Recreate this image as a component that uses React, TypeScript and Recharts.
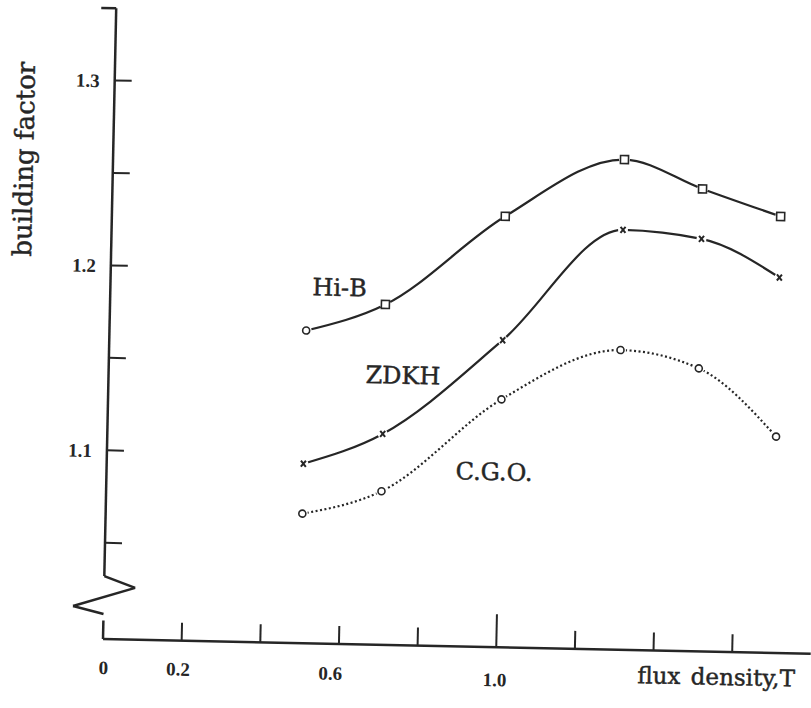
import { Line, LineChart, ReferenceLine, XAxis, YAxis } from "recharts";

// flux density (T) at which the three steels were measured
const fluxDensity = [0.5, 0.7, 1.0, 1.3, 1.5, 1.7];
const hiB = [1.167, 1.182, 1.231, 1.263, 1.248, 1.234];
const zdkh = [1.095, 1.112, 1.164, 1.225, 1.221, 1.201];
const cgo = [1.068, 1.081, 1.132, 1.16, 1.151, 1.115];

const xTicks = [0, 0.2, 0.4, 0.6, 0.8, 1.0, 1.2, 1.4, 1.6];
const xTickLabels = ["0", "0.2", "", "0.6", "", "1.0", "", "", ""];
const yTicks = [1.05, 1.1, 1.15, 1.2, 1.25, 1.3];
const yTickLabels = ["", "1.1", "", "1.2", "", "1.3"];

const data = fluxDensity.map((x, i) => ({ x, hiB: hiB[i], zdkh: zdkh[i], cgo: cgo[i] }));

const INK = "#262626";
const NUM_FONT = "'Liberation Serif', serif";
const TEXT_FONT = "'DejaVu Serif', serif";

// small hand-placement nudges of the printed tick numbers
const xLabelNudge: Record<string, [number, number]> = {
  "0": [1, 0],
  "0.2": [-3, 0],
  "0.6": [-8, 1],
  "1.0": [-1, 4],
};

const same = (a: number, b: number) => Math.abs(a - b) < 1e-6;

function XTick(props: any) {
  const { x, y, payload } = props;
  const i = xTicks.findIndex((t) => same(t, payload.value));
  const label = xTickLabels[i] ?? "";
  const len = same(payload.value, 0) ? 0 : same(payload.value, 1) ? 33 : 18;
  const [dx, dy] = xLabelNudge[label] ?? [0, 0];
  return (
    <g>
      {len > 0 && <line x1={x} x2={x} y1={y} y2={y - len} stroke={INK} strokeWidth={2} />}
      {label && (
        <text
          x={x + dx}
          y={y + 35 + dy}
          textAnchor="middle"
          fontFamily={NUM_FONT}
          fontWeight="bold"
          fontSize={19}
          fill={INK}
        >
          {label}
        </text>
      )}
    </g>
  );
}

function YTick(props: any) {
  const { x, y, payload } = props;
  const i = yTicks.findIndex((t) => same(t, payload.value));
  const label = yTickLabels[i] ?? "";
  return (
    <g>
      <line x1={x} x2={x + 17} y1={y} y2={y} stroke={INK} strokeWidth={2} />
      {label && (
        <text
          x={x - 15}
          y={y + 7}
          textAnchor="end"
          fontFamily={NUM_FONT}
          fontWeight="bold"
          fontSize={19}
          fill={INK}
        >
          {label}
        </text>
      )}
    </g>
  );
}

function HiBDot(props: any) {
  const { cx, cy, index } = props;
  if (cx == null || cy == null) return null;
  return (
    <g key={`hib-${index}`}>
      <circle cx={cx} cy={cy} r={5.5} fill="#fff" />
      {index === 0 ? (
        <circle cx={cx} cy={cy} r={3.5} fill="#fff" stroke={INK} strokeWidth={1.6} />
      ) : (
        <rect x={cx - 4} y={cy - 4} width={8} height={8} fill="#fff" stroke={INK} strokeWidth={1.6} />
      )}
    </g>
  );
}

function ZdkhDot(props: any) {
  const { cx, cy, index } = props;
  if (cx == null || cy == null) return null;
  return (
    <g key={`zdkh-${index}`}>
      <circle cx={cx} cy={cy} r={5} fill="#fff" />
      <path
        d={`M${cx - 2.5},${cy - 3} L${cx + 2.5},${cy + 3} M${cx + 2.5},${cy - 3} L${cx - 2.5},${cy + 3}`}
        stroke={INK}
        strokeWidth={2}
      />
    </g>
  );
}

function CgoDot(props: any) {
  const { cx, cy, index } = props;
  if (cx == null || cy == null) return null;
  return (
    <g key={`cgo-${index}`}>
      <circle cx={cx} cy={cy} r={5.5} fill="#fff" />
      <circle cx={cx} cy={cy} r={3.5} fill="#fff" stroke={INK} strokeWidth={1.6} />
    </g>
  );
}

export default function App() {
  const axisStroke = { stroke: INK, strokeWidth: 2.5, ifOverflow: "visible" as const };
  return (
    <div
      style={{
        position: "absolute",
        left: 0,
        top: 0,
        width: 811,
        height: 708,
        overflow: "hidden",
        background: "#fff",
      }}
    >
      <div
        style={{
          position: "absolute",
          left: 0,
          top: 0,
          width: 811,
          height: 708,
          transform: "rotate(1.2deg)",
          transformOrigin: "103px 639px",
        }}
      >
        <LineChart width={811} height={708} data={data} margin={{ top: 10, right: 0, bottom: 0, left: 43 }}>
          <XAxis
            type="number"
            dataKey="x"
            domain={[0, 1.8]}
            ticks={xTicks}
            height={69}
            axisLine={{ stroke: INK, strokeWidth: 2.5 }}
            tickLine={false}
            tickSize={0}
            tickMargin={0}
            tick={<XTick />}
            allowDataOverflow
          />
          <YAxis
            type="number"
            domain={[0.998, 1.338]}
            ticks={yTicks}
            width={60}
            axisLine={false}
            tickLine={false}
            tickSize={0}
            tickMargin={0}
            tick={<YTick />}
            allowDataOverflow
          />
          {/* y axis drawn by hand because of the break near the origin */}
          <ReferenceLine segment={[{ x: -0.038, y: 1.339 }, { x: 0, y: 1.339 }]} {...axisStroke} />
          <ReferenceLine segment={[{ x: 0, y: 1.339 }, { x: 0, y: 1.032 }]} {...axisStroke} />
          <ReferenceLine segment={[{ x: 0, y: 1.032 }, { x: 0.079, y: 1.026 }]} {...axisStroke} />
          <ReferenceLine segment={[{ x: 0.079, y: 1.026 }, { x: -0.078, y: 1.0155 }]} {...axisStroke} />
          <ReferenceLine segment={[{ x: -0.078, y: 1.0155 }, { x: 0, y: 1.0115 }]} {...axisStroke} />
          <ReferenceLine segment={[{ x: 0, y: 1.008 }, { x: 0, y: 0.998 }]} {...axisStroke} />

          <Line
            type="monotone"
            dataKey="hiB"
            stroke={INK}
            strokeWidth={2.2}
            dot={(p: any) => <HiBDot key={`hib-${p.index}`} {...p} />}
            activeDot={false}
            isAnimationActive={false}
          />
          <Line
            type="monotone"
            dataKey="zdkh"
            stroke={INK}
            strokeWidth={2.2}
            dot={(p: any) => <ZdkhDot key={`zdkh-${p.index}`} {...p} />}
            activeDot={false}
            isAnimationActive={false}
          />
          <Line
            type="monotone"
            dataKey="cgo"
            stroke={INK}
            strokeWidth={2.2}
            strokeDasharray="2 2.5"
            dot={(p: any) => <CgoDot key={`cgo-${p.index}`} {...p} />}
            activeDot={false}
            isAnimationActive={false}
          />
        </LineChart>
        <svg
          width={811}
          height={708}
          style={{ position: "absolute", left: 0, top: 0, pointerEvents: "none" }}
        >
          <g fontFamily={TEXT_FONT} fill={INK} stroke={INK} strokeWidth={0.45}>
            <text x={23} y={161} fontSize={26} textAnchor="middle" transform="rotate(-90 23 161)">
              building factor
            </text>
            <text x={638} y={672} fontSize={23} wordSpacing={3}>
              flux density,T
            </text>
            <text x={305} y={291} fontSize={24}>
              Hi-B
            </text>
            <text x={360} y={377.5} fontSize={24}>
              ZDKH
            </text>
            <text x={452} y={472} fontSize={24}>
              C.G.O.
            </text>
          </g>
        </svg>
      </div>
    </div>
  );
}
